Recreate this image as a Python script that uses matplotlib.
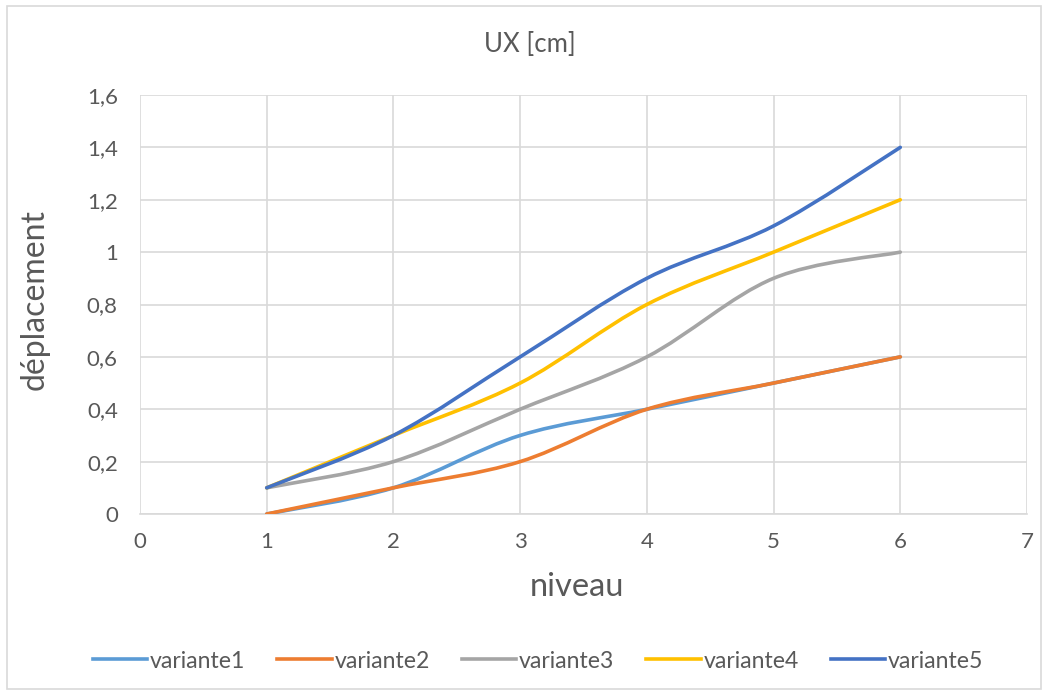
import matplotlib as mpl

mpl.use("Agg")

import matplotlib.pyplot as plt
from matplotlib.lines import Line2D
from matplotlib.patches import PathPatch, Rectangle
from matplotlib.path import Path
from matplotlib.ticker import FuncFormatter, MultipleLocator

niveau = [1, 2, 3, 4, 5, 6]
variante1 = [0.0, 0.1, 0.3, 0.4, 0.5, 0.6]
variante2 = [0.0, 0.1, 0.2, 0.4, 0.5, 0.6]
variante3 = [0.1, 0.2, 0.4, 0.6, 0.9, 1.0]
variante4 = [0.1, 0.3, 0.5, 0.8, 1.0, 1.2]
variante5 = [0.1, 0.3, 0.6, 0.9, 1.1, 1.4]
series_names = ["variante1", "variante2", "variante3", "variante4", "variante5"]
colors = ["#5B9BD5", "#ED7D31", "#A5A5A5", "#FFC000", "#4472C4"]

TEXT = "#595959"
GRID = "#D9D9D9"

plt.rcParams["font.family"] = ["Lato", "DejaVu Sans"]


def smooth_path(xs, ys):
    # Excel-like smoothed line: cubic Bezier segments with Catmull-Rom tangents
    pts = list(zip(xs, ys))
    verts = [pts[0]]
    codes = [Path.MOVETO]
    n = len(pts)
    for i in range(n - 1):
        p0 = pts[i - 1] if i > 0 else pts[i]
        p1 = pts[i]
        p2 = pts[i + 1]
        p3 = pts[i + 2] if i + 2 < n else pts[i + 1]
        c1 = (p1[0] + (p2[0] - p0[0]) / 6, p1[1] + (p2[1] - p0[1]) / 6)
        c2 = (p2[0] - (p3[0] - p1[0]) / 6, p2[1] - (p3[1] - p1[1]) / 6)
        verts += [c1, c2, p2]
        codes += [Path.CURVE4] * 3
    return Path(verts, codes)


W, H = 1048, 695
fig = plt.figure(figsize=(W / 100, H / 100), dpi=100)
ax = fig.add_axes([140 / W, 1 - 514 / H, (1027 - 140) / W, (514 - 95) / H])

fig.patches.append(
    Rectangle((7 / W, 6 / H), 1034 / W, 683 / H, transform=fig.transFigure,
              fill=False, edgecolor=GRID, linewidth=1.2)
)

for name, ys, color in zip(series_names,
                           [variante1, variante2, variante3, variante4, variante5],
                           colors):
    ax.add_patch(PathPatch(smooth_path(niveau, ys), facecolor="none", edgecolor=color,
                           linewidth=2.6, capstyle="round", joinstyle="round", zorder=3))

ax.set_xlim(0, 7)
ax.set_ylim(0, 1.6)
ax.xaxis.set_major_locator(MultipleLocator(1))
ax.yaxis.set_major_locator(MultipleLocator(0.2))
ax.yaxis.set_major_formatter(FuncFormatter(lambda v, _: f"{v:g}".replace(".", ",")))
ax.grid(True, color=GRID, linewidth=1.2)
ax.set_axisbelow(True)
for side in ["top", "right", "left"]:
    ax.spines[side].set_visible(False)
ax.spines["bottom"].set_color(GRID)
ax.spines["bottom"].set_linewidth(1.2)
ax.tick_params(axis="y", length=0, pad=16, labelsize=16, labelcolor=TEXT)
ax.tick_params(axis="x", length=0, pad=13, labelsize=16, labelcolor=TEXT)

fig.text(530 / W, 1 - 45 / H, "UX [cm]", color=TEXT, fontsize=18.5, ha="center", va="center")
fig.text(577 / W, 1 - 587 / H, "niveau", color=TEXT, fontsize=23.5, ha="center", va="center")
fig.text(35 / W, 1 - 300 / H, "déplacement", color=TEXT, fontsize=23, ha="center",
         va="center", rotation=90)

handles = [Line2D([], [], color=c, linewidth=2.6) for c in colors]
fig.legend(handles, series_names, loc="center", bbox_to_anchor=(538 / W, 1 - 661 / H),
           ncol=5, frameon=False, fontsize=16.6, labelcolor=TEXT, handlelength=2.35,
           handletextpad=0.12, columnspacing=1.4)

fig.savefig("out.png", dpi=100)
